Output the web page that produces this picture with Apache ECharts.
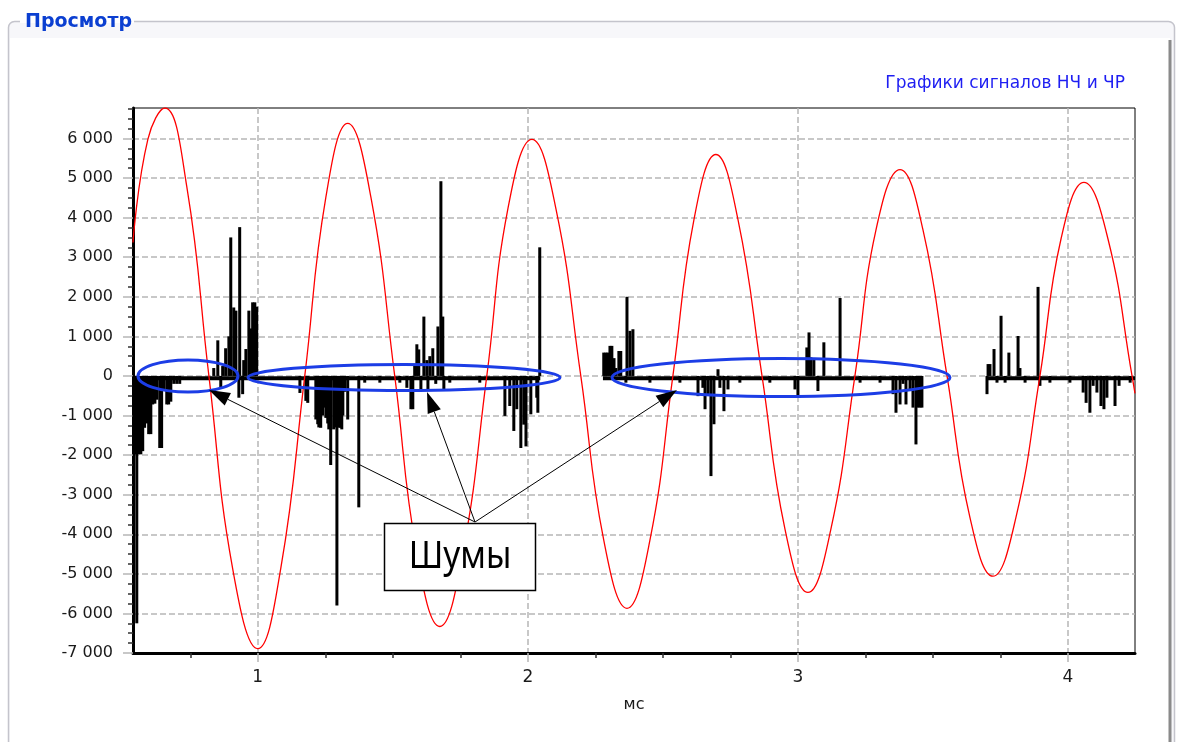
<!DOCTYPE html>
<html>
<head>
<meta charset="utf-8">
<script src="https://cdn.jsdelivr.net/npm/echarts@6/dist/echarts.min.js"></script>
<style>
html,body{margin:0;padding:0;background:#fff;}
#c{width:1179px;height:742px;}
</style>
</head>
<body>
<div id="c"></div>
<script>
// ---------- texts ----------
const panelTitle = 'Просмотр';
const chartTitle = 'Графики сигналов НЧ и ЧР';
const xAxisName = 'мс';
const calloutText = 'Шумы';

// ---------- axes ----------
const X_MIN = 0.538, X_MAX = 4.248;
const Y_MIN = -7000, Y_MAX = 6770;
const xTickLabels = [1, 2, 3, 4];
const xMinorTicks = [0.75, 1.25, 1.5, 1.75, 2.25, 2.5, 2.75, 3.25, 3.5, 3.75];
const yTickLabels = [-7000, -6000, -5000, -4000, -3000, -2000, -1000, 0, 1000, 2000, 3000, 4000, 5000, 6000];

// ---------- low-frequency signal (red) ----------
const lfTime = [0.538, 0.593, 0.656, 0.737, 0.819, 0.907, 1.000, 1.085, 1.174, 1.252, 1.333, 1.419, 1.507, 1.589, 1.674, 1.759,
  1.848, 1.926, 2.015, 2.104, 2.196, 2.281, 2.367, 2.452, 2.537, 2.615, 2.696, 2.778, 2.867, 2.952, 3.037, 3.122,
  3.211, 3.289, 3.378, 3.463, 3.552, 3.637, 3.722, 3.807, 3.896, 3.974, 4.059, 4.148, 4.237, 4.248];
const lfValue = [3370, 5975, 6770, 4790, 0, -4870, -6890, -4870, 0, 4510, 6380, 4510, 0, -4480, -6330, -4480,
  0, 4220, 5975, 4220, 0, -4150, -5870, -4150, 0, 3950, 5595, 3950, 0, -3870, -5470, -3870,
  0, 3690, 5215, 3690, 0, -3580, -5060, -3580, 0, 3460, 4890, 3460, 0, -440];

// ---------- partial discharge noise (black) ----------
const noiseTime = [
  0.541, 0.544, 0.552, 0.559, 0.567, 0.574, 0.581, 0.589, 0.596, 0.604, 0.611, 0.619, 0.626, 0.637, 0.644, 0.652,
  0.663, 0.670, 0.678, 0.689, 0.700, 0.711,
  0.837, 0.852, 0.863, 0.870, 0.881, 0.893, 0.900, 0.911, 0.919, 0.930, 0.933, 0.944, 0.948, 0.956, 0.967, 0.974,
  0.981, 0.989, 0.996,
  1.156, 1.178, 1.185, 1.215, 1.222, 1.226, 1.233, 1.240, 1.244, 1.252, 1.259, 1.263, 1.270, 1.281, 1.285, 1.293,
  1.300, 1.304, 1.311, 1.315, 1.322, 1.333, 1.374, 1.396, 1.452, 1.526, 1.552, 1.567, 1.574, 1.581, 1.589, 1.596,
  1.604, 1.615, 1.626, 1.630, 1.637, 1.648, 1.659, 1.667, 1.678, 1.685, 1.689, 1.711, 1.822, 1.915, 1.933, 1.948,
  1.959, 1.974, 1.985, 1.993, 2.011, 2.033, 2.037, 2.044,
  2.281, 2.289, 2.296, 2.304, 2.311, 2.319, 2.326, 2.337, 2.344, 2.363, 2.367, 2.378, 2.389, 2.452, 2.563, 2.630,
  2.648, 2.656, 2.667, 2.678, 2.689, 2.704, 2.711, 2.726, 2.741, 2.785, 2.896, 2.989, 3.000, 3.033, 3.041, 3.048,
  3.059, 3.074, 3.096, 3.156, 3.230, 3.304, 3.352, 3.363, 3.378, 3.389, 3.400, 3.415, 3.426, 3.437, 3.444, 3.452, 3.459,
  3.700, 3.704, 3.711, 3.726, 3.737, 3.752, 3.767, 3.781, 3.815, 3.822, 3.841, 3.889, 3.896, 3.933, 4.007, 4.056,
  4.067, 4.081, 4.093, 4.107, 4.122, 4.133, 4.144, 4.174, 4.189, 4.230];
const noiseValue = [
  -1980, -1980, -6250, -1980, -1980, -1900, -1310, -1200, -1470, -1470, -720, -700, -600, -1820, -1820, -380,
  -720, -720, -650, -200, -200, -200,
  200, 900, -300, 250, 700, 1000, 3500, 1730, 1650, -550, 3760, -460, 400, 680, 1650, 1200,
  1860, 1860, 1750,
  -430, -630, -680, -1100, -1220, -1300, -1310, -1000, -800, -1060, -1200, -1350, -2250, -1350, -1300, -5800,
  -1300, -1310, -1350, -1000, -400, -1100, -3320, -170, -170, -170, -300, -840, -840, 300, 800, 670,
  -380, 1500, 400, -380, 500, 700, -200, 1250, 4920, 1500, -340, -170, -170, -1010, -760, -1390,
  -840, -1820, -1230, -1780, -970, -550, -930, 3250,
  590, 590, 590, 760, 760, 450, 200, 630, 630, -170, 2000, 1140, 1180, -170, -170, -510,
  -300, -840, -500, -2530, -1220, 170, -300, -890, -340, -170, -170, -340, -510, 720, 1100, 470,
  430, -380, 850, 1970, -170, -170, -460, -930, -720, -200, -720, -380, -800, -1730, -800, -800, -800,
  -460, 300, 300, 680, -170, 1520, -170, 590, 1010, 200, -170, 2250, -250, -170, -170, -420,
  -680, -930, -250, -420, -760, -840, -550, -760, -250, -170];

// recorded segments of the noise channel (start / end, ms)
const segStart = [0.541, 2.278, 3.700];
const segEnd = [2.046, 3.459, 4.248];
const segLevel = -60;

// ---------- build ----------
const lfData = lfTime.map((t, i) => [t, lfValue[i]]);
const noiseData = noiseTime.map((t, i) => [t, noiseValue[i]]);
const baseData = [];
segStart.forEach((s, i) => {
  if (i > 0) baseData.push([(segEnd[i - 1] + s) / 2, '-']);
  baseData.push([s, segLevel], [segEnd[i], segLevel]);
});
const yMinorTicks = [];
yTickLabels.forEach(v => [250, 500, 750].forEach(d => { if (v + d < Y_MAX) yMinorTicks.push(v + d); }));

const fmt = v => {
  const s = String(Math.abs(v)).replace(/\B(?=(\d{3})+(?!\d))/g, ' ');
  return (v < 0 ? '-' : '') + s;
};

const FONT = 'DejaVu Sans';
const GRID_COLOR = '#b6b6b6';

// annotation geometry (decorations)
const origin = [475, 522];
const tips = [[209, 390], [427, 392], [677, 390]];
function head(tip) {
  const dx = origin[0] - tip[0], dy = origin[1] - tip[1];
  const L = Math.hypot(dx, dy), ux = dx / L, uy = dy / L;
  const len = 21, hw = 7;
  const bx = tip[0] + ux * len, by = tip[1] + uy * len;
  return { base: [bx, by], pts: [tip, [bx - uy * hw, by + ux * hw], [bx + uy * hw, by - ux * hw]] };
}
const annot = [];
tips.forEach(t => {
  const h = head(t);
  annot.push({ type: 'line', z: 100, silent: true, shape: { x1: origin[0], y1: origin[1], x2: h.base[0], y2: h.base[1] }, style: { stroke: '#000', lineWidth: 1 } });
  annot.push({ type: 'polygon', z: 100, silent: true, shape: { points: h.pts }, style: { fill: '#000' } });
});

const chart = echarts.init(document.getElementById('c'), null, { renderer: 'canvas' });
chart.setOption({
  animation: false,
  backgroundColor: '#ffffff',
  title: {
    text: chartTitle, right: 54, top: 75, padding: 0,
    textStyle: { fontFamily: FONT, fontSize: 17, fontWeight: 'normal', color: '#1e1ef2' }
  },
  grid: { left: 133, right: 44, top: 108, bottom: 89, show: true, borderColor: '#000', borderWidth: 1, backgroundColor: '#fff', containLabel: false },
  xAxis: [{
    type: 'value', min: X_MIN, max: X_MAX, position: 'bottom',
    axisLine: { show: true, onZero: false, lineStyle: { color: '#000', width: 3 } },
    axisTick: { show: true, customValues: xTickLabels, length: 9, lineStyle: { color: GRID_COLOR, width: 1.5 } },
    axisLabel: { customValues: xTickLabels, margin: 16, fontFamily: FONT, fontSize: 17, color: '#1a1a1a' },
    splitLine: { show: true, lineStyle: { color: GRID_COLOR, width: 1.5, type: [6, 3] } },
    name: xAxisName, nameLocation: 'middle', nameGap: 44,
    nameTextStyle: { fontFamily: FONT, fontSize: 16, color: '#1a1a1a' }
  }, {
    type: 'value', min: X_MIN, max: X_MAX, position: 'bottom',
    axisLine: { show: false, onZero: false },
    axisTick: { show: true, customValues: xMinorTicks, length: 5, lineStyle: { color: '#333', width: 1.5 } },
    axisLabel: { show: false }, splitLine: { show: false }
  }],
  yAxis: [{
    type: 'value', min: Y_MIN, max: Y_MAX, position: 'left',
    axisLine: { show: true, onZero: false, lineStyle: { color: '#000', width: 3 } },
    axisTick: { show: true, customValues: yTickLabels, length: 10, lineStyle: { color: GRID_COLOR, width: 1.5 } },
    axisLabel: { customValues: yTickLabels, formatter: fmt, margin: 20, fontFamily: FONT, fontSize: 16, color: '#1a1a1a' },
    splitLine: { show: true, lineStyle: { color: GRID_COLOR, width: 1.5, type: [6, 3] } }
  }, {
    type: 'value', min: Y_MIN, max: Y_MAX, position: 'left',
    axisLine: { show: false, onZero: false },
    axisTick: { show: true, customValues: yMinorTicks, length: 5, lineStyle: { color: '#333', width: 1.5 } },
    axisLabel: { show: false }, splitLine: { show: false }
  }],
  series: [
    {
      name: 'baseline', type: 'line', xAxisIndex: 0, yAxisIndex: 0, data: baseData,
      showSymbol: false, symbol: 'none', connectNulls: false,
      lineStyle: { color: '#000', width: 4 }, z: 3, silent: true
    },
    {
      name: 'ЧР', type: 'bar', xAxisIndex: 0, yAxisIndex: 0, data: noiseData,
      barWidth: 3, itemStyle: { color: '#000' }, z: 4, silent: true
    },
    {
      name: 'НЧ', type: 'line', xAxisIndex: 0, yAxisIndex: 0, data: lfData,
      smooth: 0.45, showSymbol: false, symbol: 'none',
      lineStyle: { color: '#ff0000', width: 1.3 }, z: 5, silent: true
    }
  ],
  graphic: [
    { type: 'rect', z: -10, silent: true, shape: { x: 8.5, y: 21.5, width: 1166, height: 760, r: 6 }, style: { fill: '#f7f7fa', stroke: '#c4c4cc', lineWidth: 1.5 } },
    { type: 'rect', z: -9, silent: true, shape: { x: 10, y: 38, width: 1160, height: 720 }, style: { fill: '#ffffff' } },
    { type: 'line', z: -8, silent: true, shape: { x1: 1170, y1: 40, x2: 1170, y2: 742 }, style: { stroke: '#8a8a8a', lineWidth: 3 } },
    { type: 'rect', z: -8, silent: true, shape: { x: 20, y: 12, width: 114, height: 11 }, style: { fill: '#ffffff' } },
    { type: 'text', z: -7, silent: true, x: 25, y: 22, style: { text: panelTitle, font: 'bold 19px "DejaVu Sans"', fill: '#0b3fd1', verticalAlign: 'middle' } },
    { type: 'ellipse', z: 100, silent: true, shape: { cx: 188, cy: 376, rx: 50, ry: 16 }, style: { fill: 'none', stroke: '#1c3de6', lineWidth: 3 } },
    { type: 'ellipse', z: 100, silent: true, shape: { cx: 404, cy: 377.5, rx: 156, ry: 13 }, style: { fill: 'none', stroke: '#1c3de6', lineWidth: 3 } },
    { type: 'ellipse', z: 100, silent: true, shape: { cx: 781, cy: 377.5, rx: 169, ry: 19 }, style: { fill: 'none', stroke: '#1c3de6', lineWidth: 3 } },
    ...annot,
    { type: 'rect', z: 101, silent: true, shape: { x: 384.5, y: 523.5, width: 151, height: 67 }, style: { fill: '#fff', stroke: '#000', lineWidth: 1.5 } },
    { type: 'text', z: 102, silent: true, x: 460, y: 557, scaleX: 0.88, style: { text: calloutText, font: '38px "Noto Sans"', fill: '#000', align: 'center', verticalAlign: 'middle' } }
  ]
});
</script>
</body>
</html>
